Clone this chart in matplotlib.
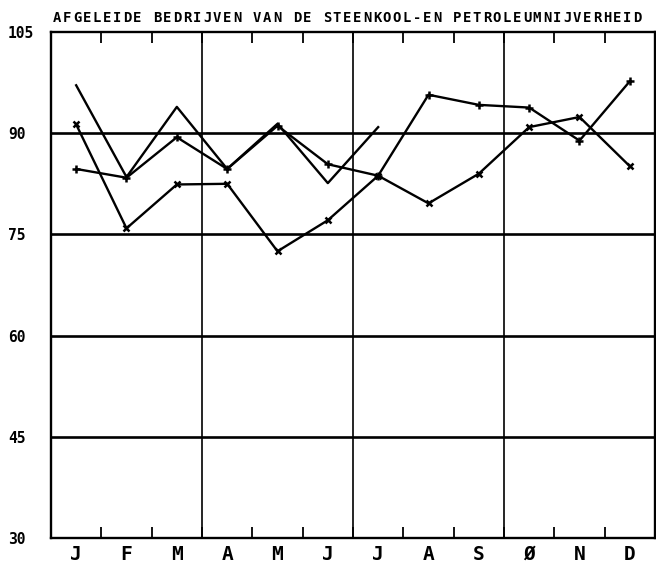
import matplotlib
matplotlib.use("Agg")
import matplotlib.pyplot as plt
from matplotlib.ticker import FixedLocator

months = ["J", "F", "M", "A", "M", "J", "J", "A", "S", "Ø", "N", "D"]
y_ticks = [30, 45, 60, 75, 90, 105]

# partial year (no markers), ends in July
series_a = [97.1, 83.5, 93.9, 84.7, 91.4, 82.6, 90.9]
# full year, "+" markers
series_b = [84.7, 83.4, 89.4, 84.7, 91.1, 85.4, 83.7, 95.7, 94.2, 93.8, 88.9, 97.7]
# full year, "x" markers
series_c = [91.3, 75.9, 82.4, 82.5, 72.5, 77.1, 83.7, 79.6, 84.0, 90.9, 92.4, 85.1]

title = "AFGELEIDE BEDRIJVEN VAN DE STEENKOOL-EN PETROLEUMNIJVERHEID"

FONT = dict(family="DejaVu Sans Mono", weight="bold")

fig = plt.figure(figsize=(6.56, 5.66), dpi=100)
ax = fig.add_axes([51 / 656, 1 - 538 / 566, 604 / 656, 506 / 566])

x_all = list(range(len(months)))
ax.plot(x_all[:len(series_a)], series_a, color="black", lw=1.7)
ax.plot(x_all, series_b, color="black", lw=1.7, marker="+", ms=6, mew=1.8)
ax.plot(x_all, series_c, color="black", lw=1.7, marker="x", ms=5, mew=1.8)

ax.set_xlim(-0.5, 11.5)
ax.set_ylim(30, 105)

# horizontal grid lines and quarter separators
for v in y_ticks[1:-1]:
    ax.axhline(v, color="black", lw=1.9, zorder=0)
for q in [2.5, 5.5, 8.5]:
    ax.axvline(q, color="black", lw=1.2, zorder=0)

for s in ax.spines.values():
    s.set_linewidth(1.7)

ax.xaxis.set_major_locator(FixedLocator(x_all))
ax.set_xticklabels(months, fontsize=14, **FONT)
ax.xaxis.set_minor_locator(FixedLocator([k + 0.5 for k in range(11)]))
ax.tick_params(axis="x", which="major", length=0, pad=5)
ax.tick_params(axis="x", which="minor", direction="in", length=8, width=1.3,
               top=True, bottom=True)

ax.set_yticks(y_ticks)
ax.set_yticklabels([str(v) for v in y_ticks], fontsize=10.5, **FONT)
ax.tick_params(axis="y", length=0, pad=31)
for lab in ax.get_yticklabels():
    lab.set_ha("left")

# plotter style title: letters on a fixed pitch
x0, x1 = 57 / 656, 637 / 656
step = (x1 - x0) / (len(title) - 1)
for i, ch in enumerate(title):
    fig.text(x0 + i * step, 1 - 18 / 566, ch, ha="center", va="center",
             fontsize=10, **FONT)

fig.savefig("out.png", dpi=100)
